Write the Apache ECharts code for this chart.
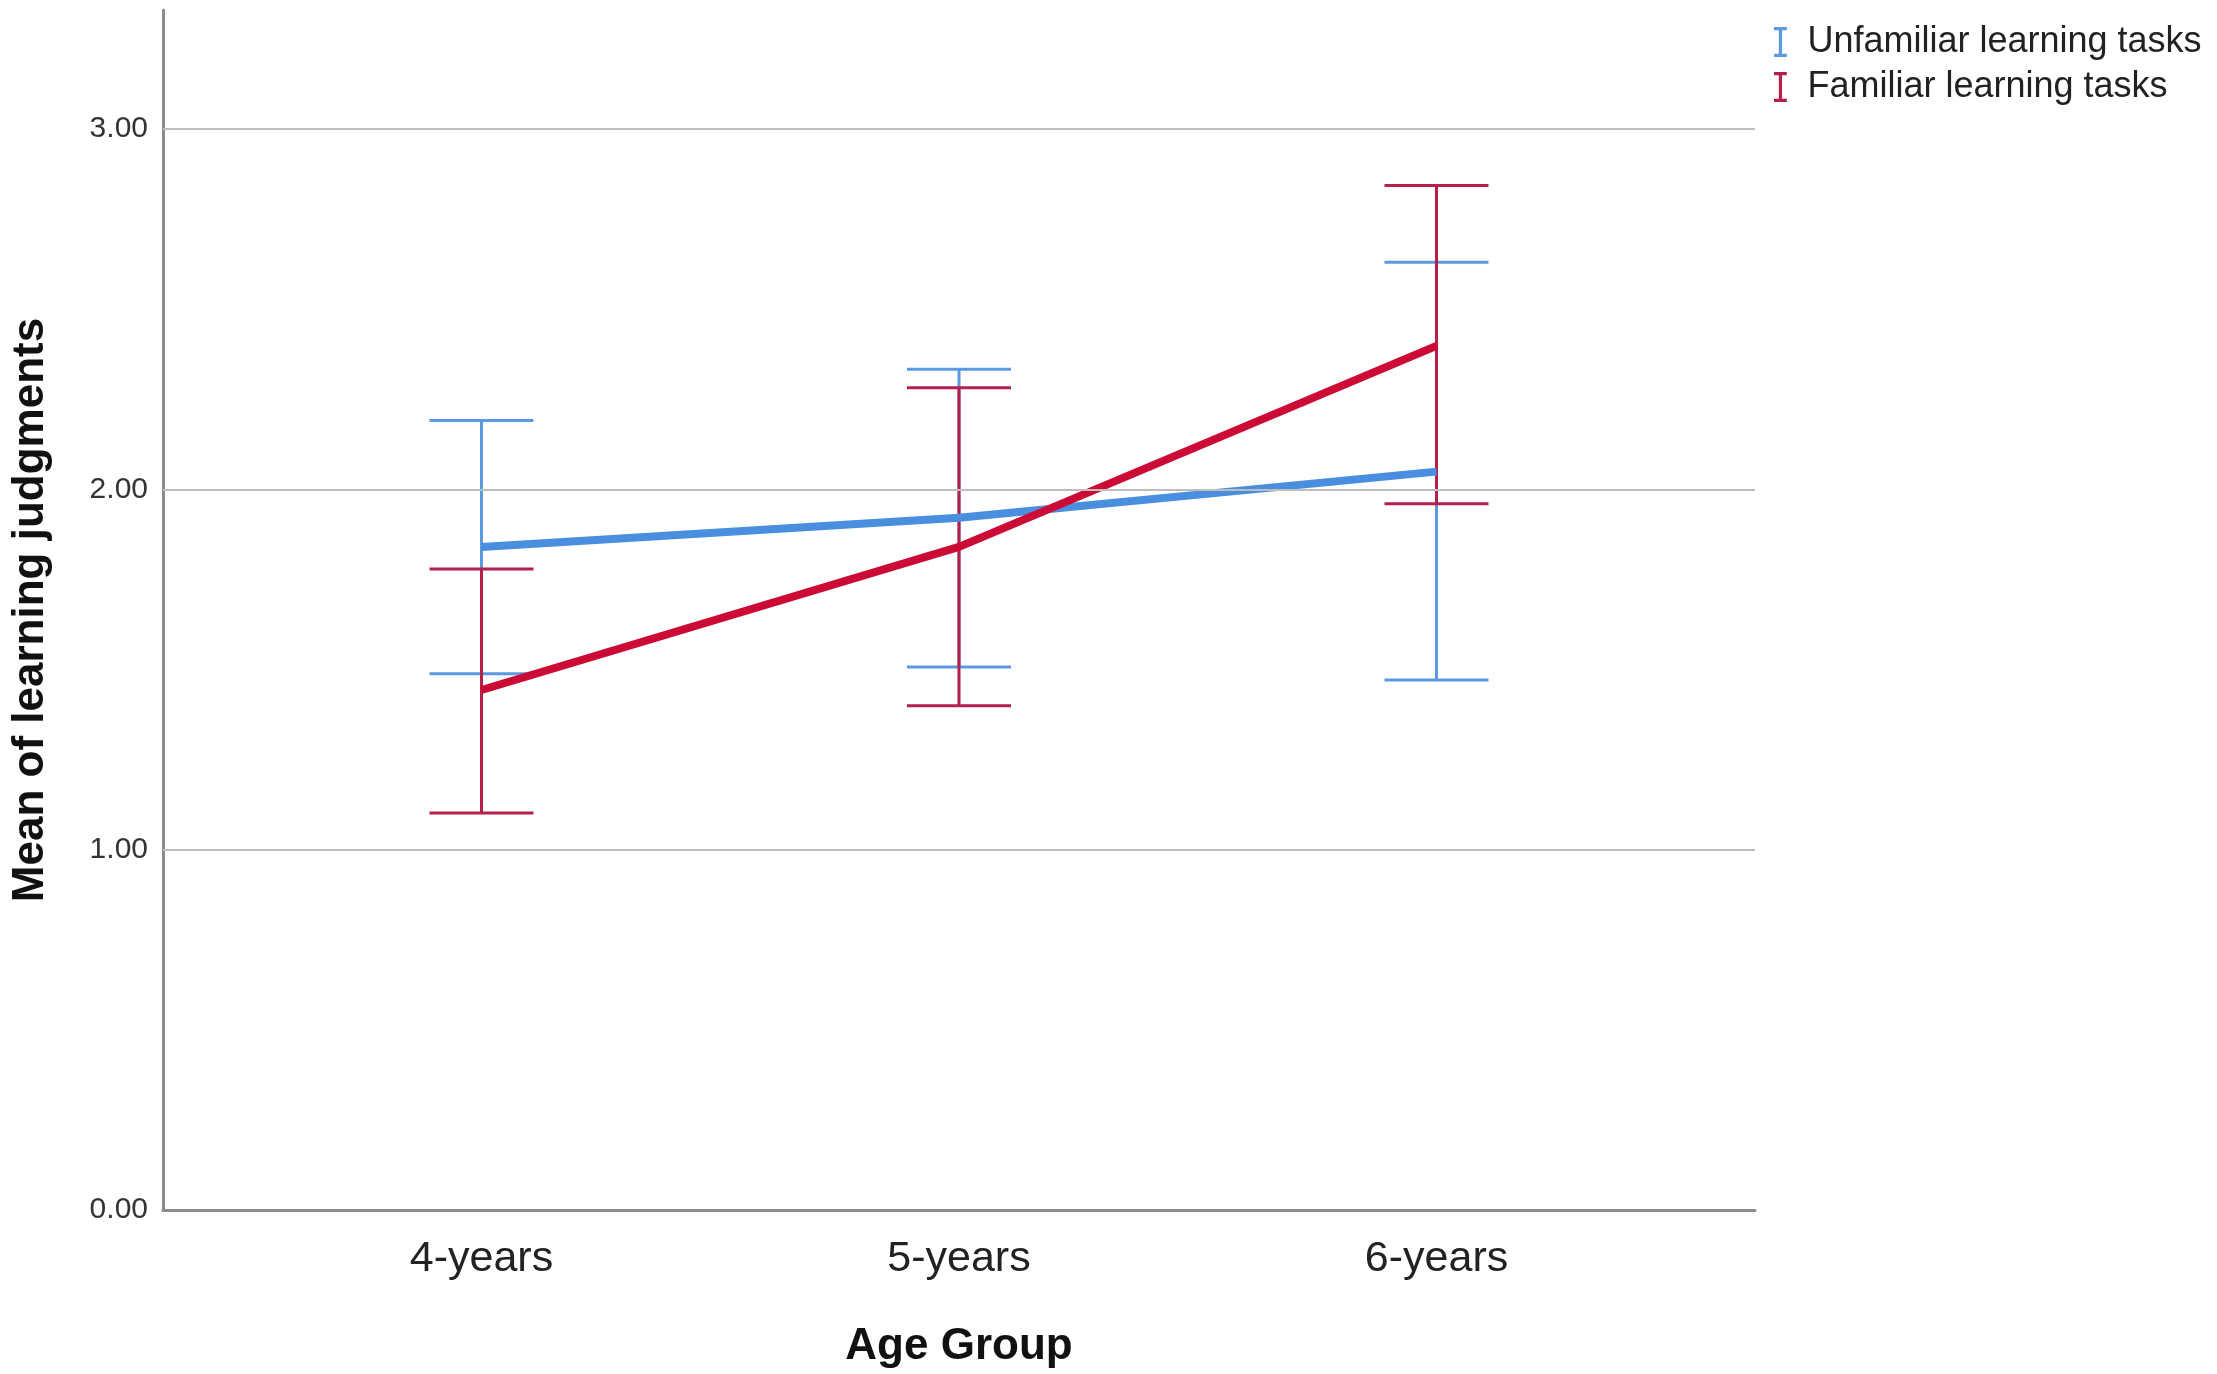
<!DOCTYPE html>
<html>
<head>
<meta charset="utf-8">
<script src="https://cdn.jsdelivr.net/npm/echarts@6/dist/echarts.min.js"></script>
<style>
  html, body { margin: 0; padding: 0; background: #fff; }
  #chart { width: 2217px; height: 1374px; }
</style>
</head>
<body>
<div id="chart"></div>
<script>
// 年龄组
var categories = ['4-years', '5-years', '6-years'];
var yTicks = [0, 1, 2, 3];
var seriesNames = ['Unfamiliar learning tasks', 'Familiar learning tasks'];

// 均值 + 误差线 (下限 / 上限)
var unfamiliarMean = [1.840, 1.921, 2.049];
var unfamiliarLow = [1.488, 1.507, 1.471];
var unfamiliarHigh = [2.191, 2.333, 2.630];

var familiarMean = [1.443, 1.840, 2.398];
var familiarLow = [1.102, 1.399, 1.960];
var familiarHigh = [1.779, 2.282, 2.843];

var blue = '#4a8fdf';
var blueBar = '#5b9ae0';
var red = '#cc0a36';
var redBar = '#b51f4b';
var font = 'Arial, "Liberation Sans", sans-serif';
var iIcon = 'path://M0,0 L12,0 L12,3 L7.5,3 L7.5,25 L12,25 L12,28 L0,28 L0,25 L4.5,25 L4.5,3 L0,3 Z';

function meanPoints(means) {
    return means.map(function (v, i) { return [i, v]; });
}
function barPoints(low, high) {
    return low.map(function (v, i) { return [i, v, high[i]]; });
}

// 误差线
function renderErrorBar(color) {
    return function (params, api) {
        var x = api.value(0);
        var lo = api.coord([x, api.value(1)]);
        var hi = api.coord([x, api.value(2)]);
        var half = 52;
        var style = { stroke: color, lineWidth: 3 };
        return {
            type: 'group',
            children: [
                { type: 'line', shape: { x1: lo[0], y1: lo[1], x2: hi[0], y2: hi[1] }, style: style },
                { type: 'line', shape: { x1: hi[0] - half, y1: hi[1], x2: hi[0] + half, y2: hi[1] }, style: style },
                { type: 'line', shape: { x1: lo[0] - half, y1: lo[1], x2: lo[0] + half, y2: lo[1] }, style: style }
            ]
        };
    };
}

var myChart = echarts.init(document.getElementById('chart'));
var option = {
    backgroundColor: '#fff',
    animation: false,
    textStyle: { fontFamily: font },
    grid: { left: 163, right: 462, top: 10, bottom: 164 },
    legend: {
        left: 1769,
        top: 19,
        orient: 'vertical',
        itemWidth: 44,
        itemHeight: 30,
        itemGap: 9,
        textStyle: { fontSize: 36, color: '#222', fontFamily: font },
        data: [
            { name: seriesNames[0], icon: iIcon, itemStyle: { color: blueBar } },
            { name: seriesNames[1], icon: iIcon, itemStyle: { color: redBar } }
        ]
    },
    xAxis: {
        type: 'value',
        min: -0.667,
        max: 2.667,
        name: 'Age Group',
        nameLocation: 'middle',
        nameGap: 115,
        nameTextStyle: { fontSize: 44, fontWeight: 'bold', color: '#111', fontFamily: font },
        axisLine: { show: true, onZero: false, lineStyle: { color: '#8c8c8c', width: 3 } },
        axisTick: { show: false },
        splitLine: { show: false },
        axisLabel: {
            customValues: [0, 1, 2],
            margin: 28,
            fontSize: 43,
            color: '#222',
            formatter: function (v) { return categories[Math.round(v)] || ''; }
        }
    },
    yAxis: {
        type: 'value',
        min: 0,
        max: 3.33,
        interval: 1,
        name: 'Mean of learning judgments',
        nameLocation: 'middle',
        nameGap: 110,
        nameTextStyle: { fontSize: 44, fontWeight: 'bold', color: '#111', fontFamily: font },
        axisLine: { show: true, onZero: false, lineStyle: { color: '#8c8c8c', width: 3 } },
        axisTick: { show: false },
        splitLine: { show: false },
        axisLabel: {
            customValues: yTicks,
            margin: 15,
            fontSize: 30,
            color: '#333',
            formatter: function (v) { return v.toFixed(2); }
        }
    },
    series: [
        {
            // 网格线
            type: 'line',
            data: [],
            silent: true,
            markLine: {
                silent: true,
                symbol: 'none',
                label: { show: false },
                lineStyle: { color: '#bdbdbd', width: 2, type: 'solid' },
                data: yTicks.slice(1).map(function (v) { return { yAxis: v }; })
            },
            z: 1
        },
        {
            name: seriesNames[0],
            type: 'custom',
            renderItem: renderErrorBar(blueBar),
            data: barPoints(unfamiliarLow, unfamiliarHigh),
            z: 2
        },
        {
            name: seriesNames[1],
            type: 'custom',
            renderItem: renderErrorBar(redBar),
            data: barPoints(familiarLow, familiarHigh),
            z: 2
        },
        {
            name: seriesNames[0],
            type: 'line',
            data: meanPoints(unfamiliarMean),
            symbol: 'none',
            lineStyle: { color: blue, width: 8 },
            itemStyle: { color: blue },
            z: 3
        },
        {
            name: seriesNames[1],
            type: 'line',
            data: meanPoints(familiarMean),
            symbol: 'none',
            lineStyle: { color: red, width: 8 },
            itemStyle: { color: red },
            z: 4
        }
    ]
};
myChart.setOption(option);
</script>
</body>
</html>
